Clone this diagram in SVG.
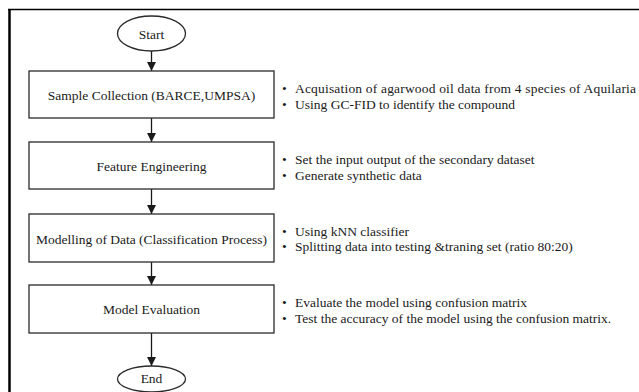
<svg xmlns="http://www.w3.org/2000/svg" width="639" height="392" viewBox="0 0 639 392">
<style>
.box{fill:#fff;stroke:#2a2a2a;stroke-width:1.3}
.t{font-family:"Liberation Serif","Times New Roman",serif;font-size:13.5px;fill:#1a1a1a}
.c{text-anchor:middle}
.ln{stroke:#1a1a1a;stroke-width:1.3;fill:none}
</style>
<defs>
<marker id="ah" viewBox="0 0 10 10" refX="10" refY="5" markerWidth="10" markerHeight="9" markerUnits="userSpaceOnUse" orient="auto">
<path d="M0,0 L10,5 L0,10 z" fill="#1a1a1a"/>
</marker>
</defs>
<rect width="639" height="392" fill="#fff"/>
<g id="frame">
<line x1="9.5" y1="9" x2="9.5" y2="392" stroke="#000" stroke-width="2.5"/>
<line x1="8" y1="9.5" x2="639" y2="9.5" stroke="#000" stroke-width="1.3"/>
</g>
<g id="connectors">
<line class="ln" x1="151.5" y1="51" x2="151.5" y2="71" marker-end="url(#ah)"/>
<line class="ln" x1="151.5" y1="118" x2="151.5" y2="142" marker-end="url(#ah)"/>
<line class="ln" x1="151.5" y1="189" x2="151.5" y2="214" marker-end="url(#ah)"/>
<line class="ln" x1="151.5" y1="262" x2="151.5" y2="285" marker-end="url(#ah)"/>
<line class="ln" x1="151.5" y1="333" x2="151.5" y2="366" marker-end="url(#ah)"/>
</g>
<g id="start">
<ellipse class="box" cx="151.5" cy="33.5" rx="34" ry="17.5"/>
<text class="t c" x="151.5" y="38.5">Start</text>
</g>
<g id="sample">
<rect class="box" x="29" y="71" width="245" height="47"/>
<text class="t c" x="151.5" y="100">Sample Collection (BARCE,UMPSA)</text>
</g>
<g id="feature">
<rect class="box" x="29" y="142" width="245" height="47"/>
<text class="t c" x="151.5" y="171">Feature Engineering</text>
</g>
<g id="modelling">
<rect class="box" x="29" y="214" width="245" height="48"/>
<text class="t c" x="151.5" y="244">Modelling of Data (Classification Process)</text>
</g>
<g id="evaluation">
<rect class="box" x="29" y="285" width="245" height="48"/>
<text class="t c" x="151.5" y="314">Model Evaluation</text>
</g>
<g id="end">
<ellipse class="box" cx="151.5" cy="379" rx="34" ry="13"/>
<text class="t c" x="151.5" y="383">End</text>
</g>
<g id="notes1">
<text class="t" x="282" y="93">•</text><text class="t" x="295" y="93" textLength="341" lengthAdjust="spacing">Acquisation of agarwood oil data from 4 species of Aquilaria</text>
<text class="t" x="282" y="108.5">•</text><text class="t" x="295" y="108.5">Using GC-FID to identify the compound</text>
</g>
<g id="notes2">
<text class="t" x="282" y="164">•</text><text class="t" x="295" y="164">Set the input output of the secondary dataset</text>
<text class="t" x="282" y="180">•</text><text class="t" x="295" y="180">Generate synthetic data</text>
</g>
<g id="notes3">
<text class="t" x="282" y="235.5">•</text><text class="t" x="295" y="235.5">Using kNN classifier</text>
<text class="t" x="282" y="251">•</text><text class="t" x="295" y="251">Splitting data into testing &amp;traning set (ratio 80:20)</text>
</g>
<g id="notes4">
<text class="t" x="282" y="307">•</text><text class="t" x="295" y="307">Evaluate the model using confusion matrix</text>
<text class="t" x="282" y="323">•</text><text class="t" x="295" y="323">Test the accuracy of the model using the confusion matrix.</text>
</g>
</svg>
